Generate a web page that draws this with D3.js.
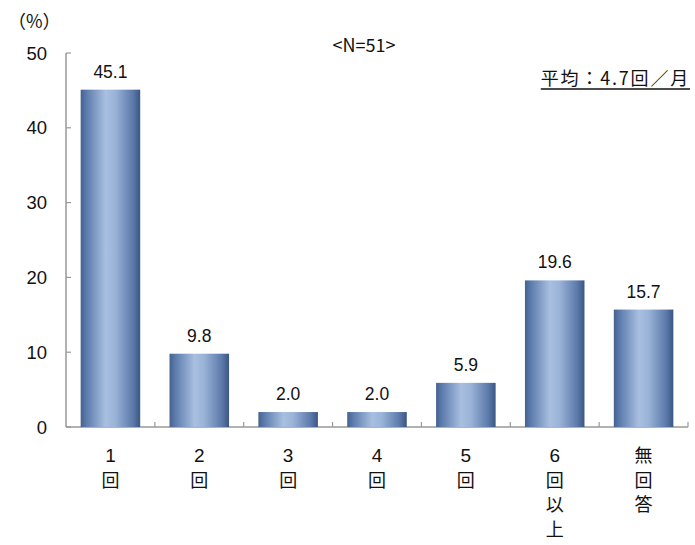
<!DOCTYPE html>
<html><head><meta charset="utf-8">
<script src="https://cdn.jsdelivr.net/npm/d3@7"></script>
<style>body{margin:0;background:#fff}</style>
</head><body>
<svg id="c" width="695" height="545"></svg>
<script>
const categories = [["1","回"],["2","回"],["3","回"],["4","回"],["5","回"],["6","回","以","上"],["無","回","答"]];
const values = [45.1, 9.8, 2.0, 2.0, 5.9, 19.6, 15.7];
const yTicks = [0, 10, 20, 30, 40, 50];
const yLabel = "（%）";
const nLabel = "<N=51>";
const avgLabel = "平均：4.7回／月";

const svg = d3.select("#c");
const numFont = "'Liberation Sans', Arial, sans-serif";
const jpFont = "'Noto Sans CJK JP', sans-serif";

const x = d3.scaleBand().domain(d3.range(categories.length)).range([66, 688]).paddingInner(0.33).paddingOuter(0.165);
const y = d3.scaleLinear().domain([0, 50]).range([427, 53]);

const defs = svg.append("defs");
const g = defs.append("linearGradient").attr("id","bg").attr("x1","0").attr("x2","1").attr("y1","0").attr("y2","0");
[[0,"#44618f"],[0.1,"#5d7cad"],[0.42,"#a8bfe0"],[0.58,"#9ab3d8"],[0.88,"#5b79aa"],[1,"#3a5682"]].forEach(([o,c])=>g.append("stop").attr("offset",o).attr("stop-color",c));

// y axis
svg.append("line").attr("x1",66).attr("x2",66).attr("y1",y(50)).attr("y2",y(0)).attr("stroke","#999").attr("stroke-width",1.5);
svg.selectAll(".yt").data(yTicks).join("line").attr("x1",66).attr("x2",71).attr("y1",d=>y(d)).attr("y2",d=>y(d)).attr("stroke","#999").attr("stroke-width",1.2);
svg.selectAll(".yl").data(yTicks).join("text").attr("x",47).attr("y",d=>y(d)+6.5).attr("text-anchor","end")
  .attr("font-family",numFont).attr("font-size",18.5).attr("fill","#111").text(d=>d);

// x axis
svg.append("line").attr("x1",66).attr("x2",688).attr("y1",y(0)).attr("y2",y(0)).attr("stroke","#999").attr("stroke-width",1.5);
const step = x.step();
svg.selectAll(".xt").data(d3.range(1, categories.length+1)).join("line")
  .attr("x1",i=>66+i*step).attr("x2",i=>66+i*step).attr("y1",y(0)).attr("y2",y(0)-5).attr("stroke","#999").attr("stroke-width",1.2);

// bars
svg.selectAll(".bar").data(values).join("rect")
  .attr("x",(d,i)=>x(i)).attr("width",x.bandwidth()).attr("y",d=>y(d)).attr("height",d=>y(0)-y(d)).attr("fill","url(#bg)");

// value labels
svg.selectAll(".vl").data(values).join("text")
  .attr("x",(d,i)=>x(i)+x.bandwidth()/2).attr("y",d=>y(d)-12).attr("text-anchor","middle")
  .attr("font-family",numFont).attr("font-size",17.5).attr("fill","#111").text(d=>d.toFixed(1));

// category labels (vertical)
categories.forEach((chars,i)=>{
  chars.forEach((ch,j)=>{
    const isNum = /\d/.test(ch);
    svg.append("text").attr("x",x(i)+x.bandwidth()/2).attr("y",462+j*24.7).attr("text-anchor","middle")
      .attr("font-family",isNum?numFont:jpFont).attr("font-size",isNum?19:18).attr("fill","#111").text(ch);
  });
});

svg.append("text").attr("x",8).attr("y",28).attr("font-family",jpFont).attr("font-size",18).attr("fill","#111").text(yLabel);
svg.append("text").attr("x",364).attr("y",52).attr("text-anchor","middle").attr("font-family",jpFont).attr("font-size",18).attr("fill","#111").text(nLabel);
const avg = svg.append("text").attr("x",690).attr("y",85).attr("text-anchor","end").attr("letter-spacing",1.8).attr("font-family",jpFont).attr("font-size",18).attr("fill","#111").text(avgLabel);
const bb = avg.node().getBBox();
svg.append("line").attr("x1",bb.x).attr("x2",bb.x+bb.width).attr("y1",89).attr("y2",89).attr("stroke","#111").attr("stroke-width",1.5);
</script>
</body></html>
